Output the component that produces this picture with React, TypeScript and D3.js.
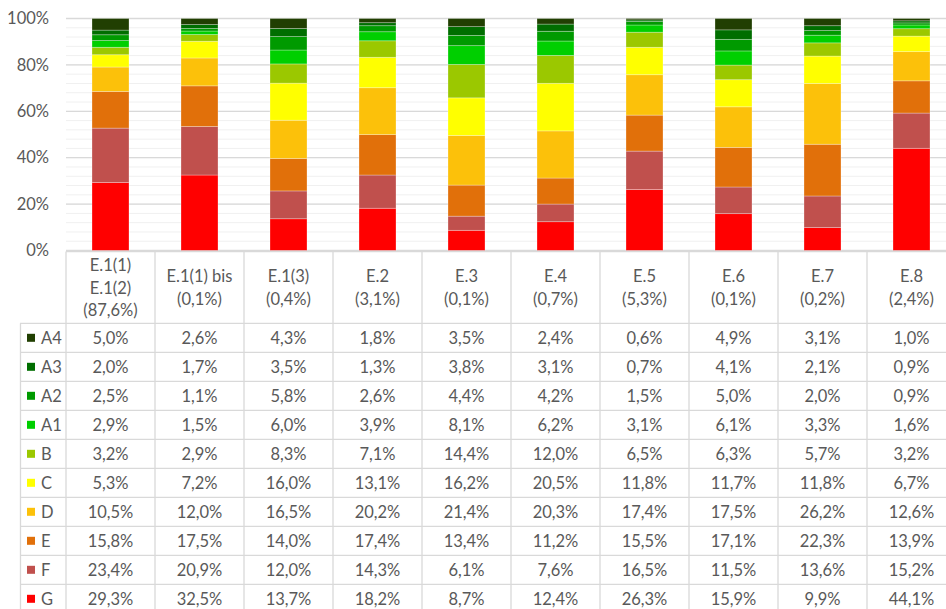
import React from 'react'
import * as d3 from 'd3'

// categories (header lines) and their share of the whole
const categories = ['E.1(1)|E.1(2)', 'E.1(1) bis', 'E.1(3)', 'E.2', 'E.3', 'E.4', 'E.5', 'E.6', 'E.7', 'E.8']
const shares = ['87,6%', '0,1%', '0,4%', '3,1%', '0,1%', '0,7%', '5,3%', '0,1%', '0,2%', '2,4%']

// series, top row of the table first
const seriesNames = ['A4', 'A3', 'A2', 'A1', 'B', 'C', 'D', 'E', 'F', 'G']
const seriesColors = ['#213F02', '#006E00', '#009A00', '#00CF00', '#9BC800', '#FFFF00', '#FCC10A', '#E1700A', '#C0504D', '#FF0000']

const A4 = [5.0, 2.6, 4.3, 1.8, 3.5, 2.4, 0.6, 4.9, 3.1, 1.0]
const A3 = [2.0, 1.7, 3.5, 1.3, 3.8, 3.1, 0.7, 4.1, 2.1, 0.9]
const A2 = [2.5, 1.1, 5.8, 2.6, 4.4, 4.2, 1.5, 5.0, 2.0, 0.9]
const A1 = [2.9, 1.5, 6.0, 3.9, 8.1, 6.2, 3.1, 6.1, 3.3, 1.6]
const B = [3.2, 2.9, 8.3, 7.1, 14.4, 12.0, 6.5, 6.3, 5.7, 3.2]
const C = [5.3, 7.2, 16.0, 13.1, 16.2, 20.5, 11.8, 11.7, 11.8, 6.7]
const D = [10.5, 12.0, 16.5, 20.2, 21.4, 20.3, 17.4, 17.5, 26.2, 12.6]
const E = [15.8, 17.5, 14.0, 17.4, 13.4, 11.2, 15.5, 17.1, 22.3, 13.9]
const F = [23.4, 20.9, 12.0, 14.3, 6.1, 7.6, 16.5, 11.5, 13.6, 15.2]
const G = [29.3, 32.5, 13.7, 18.2, 8.7, 12.4, 26.3, 15.9, 9.9, 44.1]

const seriesValues = [A4, A3, A2, A1, B, C, D, E, F, G]

const yTicks = [0, 0.2, 0.4, 0.6, 0.8, 1]

const W = 946
const H = 609
const left = 66
const colW = 89
const barW = 37
const yTop = 18.5
const yBottom = 250.5
const headerBottom = 323.3
const rowH = 29
const font = 'Lato, "Open Sans", sans-serif'
const fontSize = 16.5
const textColor = '#595959'
const gridColor = '#d9d9d9'

const fmt = (v: number) => d3.format('.1f')(v).replace('.', ',') + '%'

export default function App() {
  const x = d3.scaleBand<string>().domain(categories).range([left, left + colW * categories.length])
  const y = d3.scaleLinear().domain([0, 1]).range([yBottom, yTop])

  const rows = categories.map((c, i) => {
    const r: Record<string, any> = { cat: c }
    seriesNames.forEach((s, k) => (r[s] = seriesValues[k][i]))
    return r
  })
  // bottom of stack is G, so reverse the key order
  const stackKeys = [...seriesNames].reverse()
  const stacked = d3.stack<any>().keys(stackKeys).offset(d3.stackOffsetExpand)(rows)
  const colorOf = (s: string) => seriesColors[seriesNames.indexOf(s)]

  const minorTicks = d3.range(0, 1.0001, 0.04)
  const tableBottom = headerBottom + rowH * seriesNames.length

  return (
    <svg width={W} height={H} style={{ position: 'absolute', left: 0, top: 0, background: '#fff' }}
      fontFamily={font}>
      {/* minor gridlines */}
      {minorTicks.map((t, i) => (
        <line key={'m' + i} x1={left} x2={W} y1={y(t)} y2={y(t)} stroke="#f0f0f0" strokeWidth={1} />
      ))}
      {/* major gridlines */}
      {yTicks.map((t) => (
        <line key={'g' + t} x1={left} x2={W} y1={y(t)} y2={y(t)} stroke={gridColor} strokeWidth={1.3} />
      ))}
      {yTicks.map((t) => (
        <text key={'yl' + t} x={49} y={y(t)} dy="0.35em" textAnchor="end" fontSize={fontSize} fill={textColor}>
          {d3.format('.0%')(t)}
        </text>
      ))}

      {/* stacked bars */}
      {stacked.map((layer) => (
        <g key={layer.key} fill={colorOf(layer.key)}>
          {layer.map((d, i) => (
            <rect key={i}
              x={(x(categories[i]) as number) + (colW - barW) / 2}
              width={barW}
              y={y(d[1])}
              height={Math.max(0, y(d[0]) - y(d[1]))}
              stroke="#ffffff" strokeOpacity={0.35} strokeWidth={0.8} />
          ))}
        </g>
      ))}

      {/* data table: horizontal lines */}
      <line x1={left} x2={W} y1={yBottom + 1} y2={yBottom + 1} stroke={gridColor} strokeWidth={1.3} />
      {seriesNames.map((s, k) => (
        <line key={'h' + s} x1={20} x2={W} y1={headerBottom + k * rowH} y2={headerBottom + k * rowH}
          stroke={gridColor} strokeWidth={1.3} />
      ))}
      {/* vertical lines */}
      <line x1={20.5} x2={20.5} y1={headerBottom} y2={tableBottom} stroke={gridColor} strokeWidth={1.3} />
      {categories.map((c) => (
        <line key={'v' + c} x1={(x(c) as number)} x2={(x(c) as number)} y1={yBottom + 1} y2={tableBottom}
          stroke={gridColor} strokeWidth={1.3} />
      ))}

      {/* header labels */}
      {categories.map((c, i) => {
        const lines = [...c.split('|'), `(${shares[i]})`]
        const cx = (x(c) as number) + colW / 2
        const mid = (yBottom + headerBottom) / 2 + 1
        const lh = 22.5
        return (
          <text key={'hd' + c} x={cx} textAnchor="middle" fontSize={fontSize} fill={textColor}>
            {lines.map((l, j) => (
              <tspan key={j} x={cx} y={mid + (j - (lines.length - 1) / 2) * lh} dy="0.35em">{l}</tspan>
            ))}
          </text>
        )
      })}

      {/* legend keys and values */}
      {seriesNames.map((s, k) => {
        const cy = headerBottom + k * rowH + rowH / 2
        return (
          <g key={'r' + s}>
            <rect x={27} y={cy - 4} width={8} height={8} fill={seriesColors[k]} />
            <text x={41} y={cy} dy="0.35em" fontSize={fontSize} fill={textColor}>{s}</text>
            {categories.map((c, i) => (
              <text key={c} x={(x(c) as number) + colW / 2} y={cy} dy="0.35em" textAnchor="middle"
                fontSize={fontSize} fill={textColor}>
                {fmt(seriesValues[k][i])}
              </text>
            ))}
          </g>
        )
      })}
    </svg>
  )
}
